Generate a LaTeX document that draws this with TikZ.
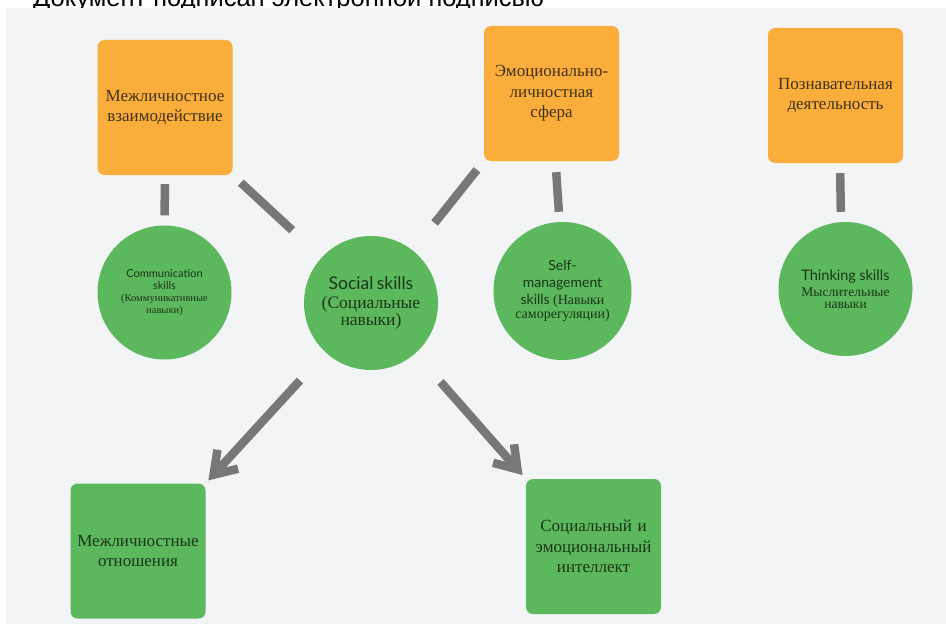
\documentclass[tikz,border=0pt]{standalone}
\usepackage{fontspec}
\setmainfont{Liberation Serif}
\newfontfamily\latofont{Lato}
\newfontfamily\topfont{Liberation Sans}
\usetikzlibrary{arrows.meta}
\definecolor{bgpanel}{HTML}{F3F4F6}
\definecolor{orng}{HTML}{FBAD3C}
\definecolor{grn}{HTML}{5CB85C}
\definecolor{conn}{HTML}{777777}
\definecolor{otext}{HTML}{3F3218}
\definecolor{gtext}{HTML}{1B361B}
\begin{document}
\begin{tikzpicture}[x=1pt,y=-1pt,
  obox/.style={rectangle, rounded corners=7pt, fill=orng, minimum width=135pt,
    minimum height=135pt, inner sep=0pt, text width=132pt, align=center,
    text=otext, font=\fontsize{17}{20.5}\selectfont},
  gbox/.style={obox, fill=grn, text=gtext},
  gcirc/.style={circle, fill=grn, minimum size=134pt, inner sep=0pt,
    text width=124pt, align=center, text=gtext},
  link/.style={draw=conn, line width=8.5pt},
  arr/.style={link, -{Straight Barb[length=21pt, width=28pt]}}]
\useasboundingbox (0,0) rectangle (946,626);
\node[anchor=base west, inner sep=0pt, font=\topfont\fontsize{25.5}{25.5}\selectfont] (hdr) at (33,7) {Документ подписан электронной подписью};
\fill[bgpanel] (6,8) rectangle (946,624);
% boxes
\node[obox] (b1) at (165,107.5) {Межличностное\\взаимодействие};
\node[obox] (b2) at (551.5,93.5) {Эмоционально-\\личностная\\сфера};
\node[obox] (b3) at (835.5,95.5) {Познавательная\\деятельность};
\node[gbox] (b4) at (138,551) {Межличностные\\отношения};
\node[gbox] (b5) at (593.5,546.5) {Социальный и\\эмоциональный\\интеллект};
% circles
\node[gcirc] (c1) at (164.5,292.5) {\latofont\fontsize{11}{12}\selectfont Communication\\skills\\\rmfamily\fontsize{10.5}{12}\selectfont (Коммуникативные\\навыки)};
\node[gcirc] (s) at (371,303) {\latofont\fontsize{17.5}{18.5}\selectfont Social skills\\\rmfamily\fontsize{17.5}{18.5}\selectfont (Социальные\\навыки)};
\node[gcirc] (sm) at (562.5,291) {\latofont\fontsize{14}{17}\selectfont Self-\\management\\skills {\rmfamily\fontsize{14}{17}\selectfont (Навыки}\\\rmfamily\fontsize{14}{17}\selectfont саморегуляции)};
\node[gcirc] (th) at (845.5,289) {\latofont\fontsize{14.5}{16}\selectfont Thinking skills\\\rmfamily\fontsize{13.5}{16}\selectfont Мыслительные\\навыки};
% connectors
\draw[link, shorten <=9pt, shorten >=10pt] (b1.south) -- (c1.north);
\draw[link, shorten <=11pt, shorten >=40pt] (b1.south east) -- (s);
\draw[link, shorten <=11pt, shorten >=35pt] (b2.south west) -- (s);
\draw[link, shorten <=11pt, shorten >=10pt] ([xshift=4pt]b2.south) -- ([xshift=-3pt]sm.north);
\draw[link, shorten <=10pt, shorten >=10pt] ([xshift=4.5pt]b3.south) -- ([xshift=-4.5pt]th.north);
\draw[arr, shorten <=38pt, shorten >=4pt] (s) -- (b4.north east);
\draw[arr, shorten <=38pt, shorten >=5pt] (s) -- (b5.north west);
\end{tikzpicture}
\end{document}
